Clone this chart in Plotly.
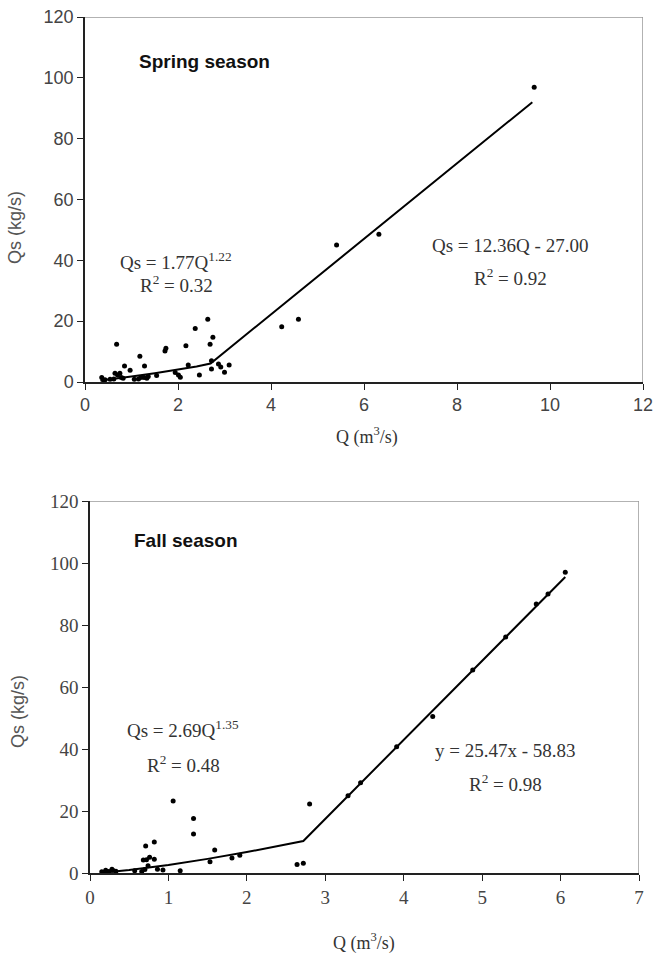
import plotly.graph_objects as go

# ---------------- Spring season data ----------------
spring_q = [0.36, 0.43, 0.54, 0.68, 0.645, 0.75, 0.78, 0.82, 0.85, 0.97, 1.06, 1.18, 1.28,
            1.20, 1.27, 1.33, 1.36, 1.15, 1.72, 1.74, 1.54, 1.94, 2.01, 2.05, 2.17, 2.22,
            2.37, 2.46, 2.64, 2.75, 2.69, 2.72, 2.72, 2.87, 2.92, 3.00, 3.10, 4.23, 4.59,
            5.41, 6.32, 9.66, 0.40, 0.62, 0.70]
spring_qs = [1.5, 0.7, 0.9, 12.4, 2.9, 2.9, 1.5, 1.2, 5.3, 3.9, 0.9, 8.5, 5.3,
             1.5, 1.5, 1.2, 1.8, 1.0, 10.2, 11.1, 2.1, 3.1, 2.3, 1.6, 11.9, 5.6,
             17.6, 2.3, 20.6, 14.7, 12.4, 7.0, 4.3, 5.9, 4.9, 3.2, 5.6, 18.2, 20.6,
             45.0, 48.6, 96.9, 0.5, 1.0, 2.3]
# trend line vertices (power segment, then linear segment)
spring_fit_q = [0.33, 0.6, 1.0, 1.5, 2.0, 2.4, 2.7, 9.62]
spring_fit_qs = [0.5, 0.95, 1.8, 2.9, 4.1, 5.1, 6.1, 92.0]

# ---------------- Fall season data ----------------
fall_q = [0.15, 0.20, 0.24, 0.28, 0.29, 0.33, 0.57, 0.68, 0.71, 0.72, 0.76, 0.82, 0.82,
          0.74, 0.86, 0.93, 1.06, 1.15, 1.32, 1.32, 1.53, 1.59, 1.81, 1.91, 2.64, 2.72,
          2.80, 3.29, 3.45, 3.91, 4.37, 4.88, 5.30, 5.69, 5.84, 6.06, 0.18, 0.70, 0.66]
fall_qs = [0.5, 1.0, 0.6, 1.3, 1.0, 0.7, 0.8, 4.3, 8.8, 4.4, 5.2, 10.1, 4.5,
           2.4, 1.3, 1.1, 23.3, 0.8, 17.7, 12.7, 3.7, 7.5, 4.9, 5.8, 2.8, 3.2,
           22.3, 25.0, 29.2, 40.8, 50.5, 65.5, 76.2, 86.8, 90.0, 97.0, 0.3, 1.2, 0.6]
fall_fit_q = [0.15, 0.5, 1.0, 1.5, 2.0, 2.4, 2.72, 6.06]
fall_fit_qs = [0.2, 1.05, 2.7, 4.65, 6.85, 8.8, 10.4, 95.5]

y_ticks = [0, 20, 40, 60, 80, 100, 120]
spring_x_ticks = [0, 2, 4, 6, 8, 10, 12]
fall_x_ticks = [0, 1, 2, 3, 4, 5, 6, 7]

SANS = "Liberation Sans, Arial, sans-serif"
SERIF = "Liberation Serif, Times New Roman, serif"

fig = go.Figure()

fig.add_trace(go.Scatter(x=spring_fit_q, y=spring_fit_qs, mode="lines",
                         line=dict(color="black", width=2), xaxis="x", yaxis="y",
                         showlegend=False, hoverinfo="skip"))
fig.add_trace(go.Scatter(x=spring_q, y=spring_qs, mode="markers",
                         marker=dict(color="black", size=5), xaxis="x", yaxis="y",
                         showlegend=False))
fig.add_trace(go.Scatter(x=fall_fit_q, y=fall_fit_qs, mode="lines",
                         line=dict(color="black", width=2), xaxis="x2", yaxis="y2",
                         showlegend=False, hoverinfo="skip"))
fig.add_trace(go.Scatter(x=fall_q, y=fall_qs, mode="markers",
                         marker=dict(color="black", size=5), xaxis="x2", yaxis="y2",
                         showlegend=False))

axis_common = dict(showgrid=False, zeroline=False, showline=True, linecolor="#222",
                   linewidth=1.5, ticks="outside", ticklen=6, tickcolor="#222", tickwidth=1,
                   automargin=False)

fig.update_layout(
    width=655, height=954,
    margin=dict(l=0, r=0, t=0, b=0, autoexpand=False),
    paper_bgcolor="white", plot_bgcolor="white",
    xaxis=dict(domain=[85/655, 643/655], range=[0, 12], tickvals=spring_x_ticks,
               anchor="y", tickfont=dict(family=SANS, size=18, color="#444"), **axis_common),
    yaxis=dict(domain=[1-382/954, 1-17/954], range=[0, 120], tickvals=y_ticks,
               anchor="x", tickfont=dict(family=SANS, size=18, color="#444"), **axis_common),
    xaxis2=dict(domain=[90/655, 639/655], range=[0, 7], tickvals=fall_x_ticks,
                anchor="y2", tickfont=dict(family=SERIF, size=19, color="#444"), **axis_common),
    yaxis2=dict(domain=[1-873.3/954, 1-501/954], range=[0, 120], tickvals=y_ticks,
                anchor="x2", tickfont=dict(family=SERIF, size=19, color="#444"), **axis_common),
)

# gray top/right border
for xr, yr, xmax in (("x", "y", 12), ("x2", "y2", 7)):
    fig.add_shape(type="line", xref=xr, yref=yr, x0=0, x1=xmax, y0=120, y1=120,
                  line=dict(color="#999", width=1.5))
    fig.add_shape(type="line", xref=xr, yref=yr, x0=xmax, x1=xmax, y0=0, y1=120,
                  line=dict(color="#999", width=1.5))

def ann(text, x, y, xref, yref, font, **kw):
    fig.add_annotation(text=text, x=x, y=y, xref=xref, yref=yref, showarrow=False,
                       font=font, xanchor="center", yanchor="middle", **kw)

eq_font = dict(family=SERIF, size=19, color="#333")
title_font = dict(family=SANS, size=19, color="#111")

ann("<b>Spring season</b>", 2.56, 105.3, "x", "y", title_font)
ann("Qs = 1.77Q<sup>1.22</sup>", 1.96, 39.8, "x", "y", eq_font)
ann("R<sup>2</sup> = 0.32", 1.96, 32.3, "x", "y", eq_font)
ann("Qs = 12.36Q - 27.00", 9.14, 45.0, "x", "y", eq_font)
ann("R<sup>2</sup> = 0.92", 9.14, 34.6, "x", "y", eq_font)

ann("<b>Fall season</b>", 1.22, 107.4, "x2", "y2", title_font)
ann("Qs = 2.69Q<sup>1.35</sup>", 1.19, 46.5, "x2", "y2", eq_font)
ann("R<sup>2</sup> = 0.48", 1.19, 35.3, "x2", "y2", eq_font)
ann("y = 25.47x - 58.83", 5.30, 39.7, "x2", "y2", eq_font)
ann("R<sup>2</sup> = 0.98", 5.30, 29.0, "x2", "y2", eq_font)

# axis titles
ann("Qs (kg/s)", 15/655, 1-228/954, "paper", "paper",
    dict(family=SANS, size=18, color="#555"), textangle=-90)
ann("Q (m<sup>3</sup>/s)", 367/655, 1-436/954, "paper", "paper",
    dict(family=SERIF, size=18, color="#333"))
ann("Qs (kg/s)", 18/655, 1-712/954, "paper", "paper",
    dict(family=SANS, size=18, color="#555"), textangle=-90)
ann("Q (m<sup>3</sup>/s)", 364/655, 1-942/954, "paper", "paper",
    dict(family=SERIF, size=18, color="#333"))

fig.write_html("out.html", config={"displayModeBar": False},
               post_script="document.body.style.margin='0';document.body.style.overflow='hidden';")
